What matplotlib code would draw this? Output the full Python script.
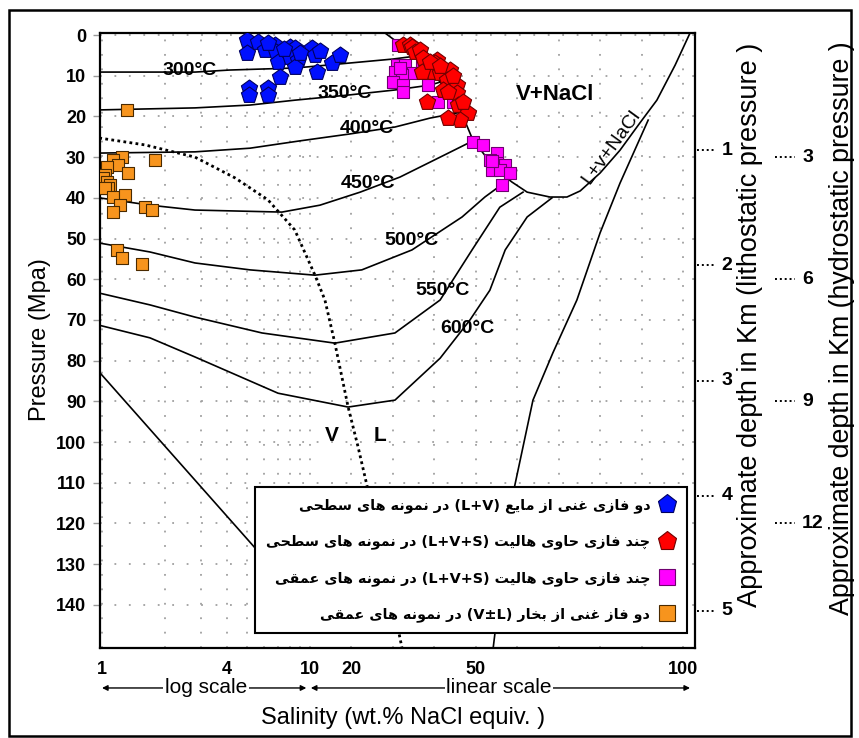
import numpy as np
import matplotlib
matplotlib.use("Agg")
import matplotlib.pyplot as plt
from matplotlib.patches import Rectangle
from matplotlib.lines import Line2D
from matplotlib.font_manager import FontProperties

plt.rcParams['font.family'] = ['Liberation Sans', 'DejaVu Sans']

# fluid inclusion groups: salinity (wt.% NaCl) and pressure (MPa)
blue_s = [5.0, 5.6, 5.0, 6.1, 6.8, 6.9, 7.0, 8.0, 8.5, 8.0, 8.8, 8.5, 10.5, 11.2, 11.7,
          15.3, 17.2, 7.2, 5.1, 5.1, 6.3, 6.3, 6.3, 9.0, 12.5, 7.5]
blue_p = [1.2, 1.7, 4.4, 3.7, 2.5, 4.2, 6.6, 2.9, 3.2, 5.4, 6.1, 7.9, 3.2, 4.9, 9.1,
          6.9, 5.0, 10.3, 13.0, 14.7, 13.0, 14.7, 2.0, 4.5, 4.0, 3.5]

red_s = [32.4, 34.1, 34.6, 35.3, 36.5, 37.3, 40.6, 40.2, 39.7, 41.4, 43.8, 43.1, 42.1,
         45.5, 45.5, 43.3, 45.7, 48.1, 46.2, 43.3, 38.2, 37.0, 39.0, 41.4, 44.5, 47.0]
red_p = [2.5, 2.5, 2.9, 4.2, 3.7, 5.7, 6.1, 6.9, 9.1, 9.3, 8.6, 11.1, 13.5,
         12.3, 14.3, 14.0, 17.2, 19.2, 20.9, 20.4, 16.5, 9.1, 6.6, 7.5, 10.0, 16.5]

pink_s = [31.2, 31.0, 32.9, 30.5, 34.9, 32.2, 30.0, 32.4, 32.4, 38.5, 40.9, 37.0, 44.5, 31.7,
          49.3, 51.7, 55.1, 53.4, 55.1, 57.1, 53.9, 55.8, 58.3, 56.3, 54.0]
pink_p = [2.5, 7.4, 7.4, 9.1, 9.3, 9.8, 11.5, 12.3, 14.0, 12.3, 16.5, 6.9, 16.5, 8.0,
          26.3, 27.0, 29.0, 30.7, 31.4, 31.9, 33.2, 33.2, 33.9, 36.9, 31.0]

orange_s = [1.32, 1.25, 1.13, 1.80, 1.19, 1.06, 1.33, 1.03, 1.01, 1.06, 1.09, 1.07, 1.03,
            1.13, 1.29, 1.22, 1.13, 1.61, 1.74, 1.18, 1.25, 1.56]
orange_p = [18.4, 30.0, 30.7, 30.7, 31.9, 32.4, 33.9, 34.4, 35.1, 36.1, 36.9, 37.6, 37.6,
            39.8, 39.3, 41.8, 43.5, 42.3, 43.0, 52.8, 54.8, 56.3]

# isotherms (salinity, pressure)
iso_300_s = [0.97, 1.7, 2.8, 4.1, 8.5, 17.2, 30.0, 35.3]
iso_300_p = [9.1, 9.1, 9.1, 8.6, 8.1, 7.1, 5.9, 5.2]
iso_350_s = [0.97, 2.8, 5.15, 8.47, 19.65, 30.5, 39.0, 41.6]
iso_350_p = [18.4, 17.9, 17.2, 16.0, 14.7, 13.5, 12.3, 11.5]
iso_400_s = [0.97, 2.8, 5.15, 8.95, 19.65, 30.5, 39.0, 46.7]
iso_400_p = [29.0, 28.7, 27.8, 26.0, 24.3, 22.6, 20.4, 18.9]
iso_450_s = [0.97, 1.7, 2.8, 7.33, 12.4, 22.1, 31.7, 41.4, 49.3]
iso_450_p = [40.0, 41.8, 43.0, 43.5, 41.8, 38.6, 34.9, 30.0, 26.0]
iso_500_s = [0.97, 1.7, 2.8, 5.15, 11.2, 22.5, 34.6, 46.7, 52.2, 57.8]
iso_500_p = [51.1, 53.3, 56.0, 57.7, 59.0, 57.7, 52.8, 44.7, 39.8, 35.6]
iso_550_s = [0.97, 1.7, 2.8, 5.88, 16.0, 30.5, 41.4, 49.1, 55.8, 61.4]
iso_550_p = [63.4, 66.3, 69.3, 73.2, 75.7, 73.2, 65.1, 52.8, 42.3, 38.6]
iso_600_s = [0.97, 1.7, 2.8, 7.02, 19.2, 30.5, 41.4, 48.6, 53.4, 57.1, 62.4, 68.4]
iso_600_p = [71.3, 74.4, 79.1, 88.0, 91.4, 89.7, 79.4, 70.0, 62.7, 52.8, 44.7, 40.0]
iso_labels = ['300°C', '350°C', '400°C', '450°C', '500°C', '550°C', '600°C']
iso_lab_s = [2.65, 18.4, 23.8, 24.0, 34.6, 42.1, 47.9]
iso_lab_p = [8.6, 14.3, 22.9, 36.4, 50.4, 62.7, 72.0]

# halite saturation (L+V+H) curve
hal_s = [28.1, 31.0, 36.5, 41.4, 45.0, 47.5, 49.3, 52.7, 55.8, 58.7, 62.4, 67.9, 72.0,
         75.2, 80.0, 84.8, 89.6, 93.7, 98.1, 101.7]
hal_p = [-0.5, 1.7, 6.1, 11.5, 16.7, 21.4, 25.8, 30.2, 33.7, 36.1, 38.6, 39.8, 39.8,
         38.3, 33.9, 28.3, 21.6, 16.0, 7.4, -0.5]
# halite liquidus branch
liq_s = [91.6, 84.8, 80.0, 74.4, 68.6, 63.8, 58.3, 54.2]
liq_p = [20.9, 36.4, 48.6, 65.1, 78.1, 89.7, 116.0, 150.6]
# low salinity boundary
low_s = [0.97, 5.44, 8.0]
low_p = [82.8, 126.0, 135.9]
# critical curve (dotted)
crit_s = [0.97, 1.61, 2.80, 4.36, 6.28, 8.45, 11.2, 13.6, 16.0, 19.2, 21.6, 24.0, 28.1, 32.2]
crit_p = [25.3, 27.0, 30.0, 35.1, 40.5, 47.9, 59.0, 65.1, 75.7, 91.4, 101.2, 111.8, 130.2, 150.6]

x_grid = [1, 2, 3, 4, 5, 6, 7, 8, 9, 10, 20, 30, 40, 50, 60, 70, 80, 90, 100]
x_ticklabels = {1: '1', 4: '4', 10: '10', 20: '20', 50: '50', 100: '100'}
y_ticks = list(range(0, 150, 10))
litho_km = [1, 2, 3, 4, 5]
hydro_km = [3, 6, 9, 12]
MPA_PER_KM_LITHO = 28.3
MPA_PER_KM_HYDRO = 10.0

legend_labels = [
    'دو فازی غنی از مایع (L+V) در نمونه های سطحی',
    'چند فازی حاوی هالیت (L+V+S) در نمونه های سطحی',
    'چند فازی حاوی هالیت (L+V+S) در نمونه های عمقی',
    'دو فاز غنی از بخار (V±L) در نمونه های عمقی',
]

# arabic letter forms: isolated, final, initial, medial
FORMS = {
    'ا': ('\uFE8D', '\uFE8E', None, None),
    'ب': ('\uFE8F', '\uFE90', '\uFE91', '\uFE92'),
    'ت': ('\uFE95', '\uFE96', '\uFE97', '\uFE98'),
    'ح': ('\uFEA1', '\uFEA2', '\uFEA3', '\uFEA4'),
    'خ': ('\uFEA5', '\uFEA6', '\uFEA7', '\uFEA8'),
    'د': ('\uFEA9', '\uFEAA', None, None),
    'ر': ('\uFEAD', '\uFEAE', None, None),
    'ز': ('\uFEAF', '\uFEB0', None, None),
    'س': ('\uFEB1', '\uFEB2', '\uFEB3', '\uFEB4'),
    'ط': ('\uFEC1', '\uFEC2', '\uFEC3', '\uFEC4'),
    'ع': ('\uFEC9', '\uFECA', '\uFECB', '\uFECC'),
    'غ': ('\uFECD', '\uFECE', '\uFECF', '\uFED0'),
    'ف': ('\uFED1', '\uFED2', '\uFED3', '\uFED4'),
    'ق': ('\uFED5', '\uFED6', '\uFED7', '\uFED8'),
    'ل': ('\uFEDD', '\uFEDE', '\uFEDF', '\uFEE0'),
    'م': ('\uFEE1', '\uFEE2', '\uFEE3', '\uFEE4'),
    'ن': ('\uFEE5', '\uFEE6', '\uFEE7', '\uFEE8'),
    'ه': ('\uFEE9', '\uFEEA', '\uFEEB', '\uFEEC'),
    'و': ('\uFEED', '\uFEEE', None, None),
    'ی': ('\uFBFC', '\uFBFD', '\uFBFE', '\uFBFF'),
    'چ': ('\uFB7A', '\uFB7B', '\uFB7C', '\uFB7D'),
}


def shape_word(w):
    out = []
    for i, c in enumerate(w):
        f = FORMS.get(c)
        if f is None:
            out.append(c)
            continue
        prev = w[i - 1] if i > 0 else None
        nxt = w[i + 1] if i + 1 < len(w) else None
        jp = prev in FORMS and FORMS[prev][2] is not None
        jn = f[2] is not None and nxt in FORMS
        if jp and jn:
            out.append(f[3])
        elif jp:
            out.append(f[1])
        elif jn:
            out.append(f[2])
        else:
            out.append(f[0])
    return ''.join(reversed(out))


def rtl(text):
    words = text.split(' ')
    vis = [w if w.startswith('(') else shape_word(w) for w in words]
    return ' '.join(reversed(vis))


K = 373 / 208  # width of one linear decade relative to log decade


def fwd(s):
    s = np.asarray(s, float)
    lo = np.log10(np.clip(s, 1e-6, None))
    hi = 1 + (s - 10) / 90 * K
    return np.where(s <= 10, lo, hi)


def inv(u):
    u = np.asarray(u, float)
    return np.where(u <= 1, 10 ** np.clip(u, -10, 1), 10 + (u - 1) * 90 / K)


fig = plt.figure(figsize=(8.59, 7.38), dpi=100)
ax = fig.add_axes([100 / 859, 90 / 738, 595 / 859, 615 / 738])
ax.set_xscale('function', functions=(fwd, inv))
ax.set_xlim(0.978, 102.9)
ax.set_ylim(150.6, -0.5)

ax.set_xticks(x_grid)
ax.set_xticklabels([x_ticklabels.get(v, '') for v in x_grid])
ax.xaxis.set_minor_locator(plt.NullLocator())
ax.set_yticks(y_ticks)
ax.tick_params(axis='x', length=0, pad=9, labelsize=13)
ax.tick_params(axis='y', length=5, width=1, color='#9a9a9a', pad=5, labelsize=13)
for t in ax.get_xticklabels() + ax.get_yticklabels():
    t.set_fontweight('bold')
ax.grid(True, color='#a0a0a0', lw=1.3, ls=(0, (1, 7)))
ax.set_axisbelow(True)
for sp in ax.spines.values():
    sp.set_linewidth(1.6)

line_kw = dict(color='k', lw=1.2, zorder=2)
for s, p in [(iso_300_s, iso_300_p), (iso_350_s, iso_350_p), (iso_400_s, iso_400_p),
             (iso_450_s, iso_450_p), (iso_500_s, iso_500_p), (iso_550_s, iso_550_p),
             (iso_600_s, iso_600_p), (hal_s, hal_p), (liq_s, liq_p), (low_s, low_p)]:
    ax.plot(s, p, **line_kw)
ax.plot(crit_s, crit_p, color='k', lw=2, ls=(0, (1, 1.2)), zorder=2)

for lab, s, p in zip(iso_labels, iso_lab_s, iso_lab_p):
    ax.text(s, p, lab, ha='center', va='center', fontsize=14, fontweight='bold', zorder=3)

ax.text(69.1, 14.7, 'V+NaCl', ha='center', va='center', fontsize=16, fontweight='bold')
ax.text(82.6, 27.5, 'L+v+NaCl', ha='center', va='center', fontsize=14, rotation=54)
ax.text(15.3, 98.3, 'V', ha='center', va='center', fontsize=15, fontweight='bold')
ax.text(26.9, 98.3, 'L', ha='center', va='center', fontsize=15, fontweight='bold')

ax.scatter(orange_s, orange_p, marker='s', s=85, c='#f7941d', edgecolors='#4a2a00', linewidths=0.8, zorder=5)
ax.scatter(pink_s, pink_p, marker='s', s=85, c='#ff00ff', edgecolors='#700070', linewidths=0.8, zorder=5)
ax.scatter(red_s, red_p, marker='p', s=150, c='#ff0000', edgecolors='#700000', linewidths=0.8, zorder=6)
ax.scatter(blue_s, blue_p, marker='p', s=150, c='#0010ff', edgecolors='#000060', linewidths=0.8, zorder=6)

handles = [
    Line2D([], [], ls='', marker='p', ms=14, mfc='#0010ff', mec='#000060', mew=0.8),
    Line2D([], [], ls='', marker='p', ms=14, mfc='#ff0000', mec='#700000', mew=0.8),
    Line2D([], [], ls='', marker='s', ms=12, mfc='#ff00ff', mec='#700070', mew=0.8),
    Line2D([], [], ls='', marker='s', ms=12, mfc='#f7941d', mec='#4a2a00', mew=0.8),
]
leg = ax.legend(handles, [rtl(t) for t in legend_labels], loc='lower right',
                bbox_to_anchor=(687 / 859, 105 / 738), bbox_transform=fig.transFigure,
                markerfirst=False, fancybox=False, framealpha=1, edgecolor='k',
                borderaxespad=0, borderpad=0.75, labelspacing=1.5, handletextpad=0.5,
                handlelength=1.3,
                prop=FontProperties(family=['DejaVu Sans'], weight='bold', size=10.4))
leg.get_frame().set_linewidth(1.5)
leg.set_zorder(10)

# scale arrows under the salinity axis
xt = ax.get_xaxis_transform()
arrow_y = -0.065
for a, b, txt, mid in [(1.0, 9.6, 'log scale', 3.16), (10.2, 101.7, 'linear scale', 55.6)]:
    ax.annotate('', xy=(b, arrow_y), xytext=(a, arrow_y), xycoords=xt, textcoords=xt,
                arrowprops=dict(arrowstyle='<|-|>', color='k', lw=1, mutation_scale=8,
                                shrinkA=0, shrinkB=0), annotation_clip=False)
    ax.text(mid, arrow_y, txt, transform=xt, ha='center', va='center', fontsize=15,
            bbox=dict(fc='white', ec='none', pad=1))

# depth scales on the right
yt = ax.get_yaxis_transform()
for km in litho_km:
    p = km * MPA_PER_KM_LITHO
    ax.plot([1.004, 1.035], [p, p], transform=yt, color='k', lw=1.4, ls=(0, (1, 1.5)), clip_on=False)
    ax.text(1.045, p, str(km), transform=yt, ha='left', va='center', fontsize=14, fontweight='bold')
for km in hydro_km:
    p = km * MPA_PER_KM_HYDRO
    ax.plot([1.134, 1.168], [p, p], transform=yt, color='k', lw=1.4, ls=(0, (1, 1.5)), clip_on=False)
    ax.text(1.18, p, str(km), transform=yt, ha='left', va='center', fontsize=14, fontweight='bold')

fig.text(750 / 859, 1 - 325 / 738, 'Approximate depth in Km (lithostatic pressure )',
         rotation=90, ha='center', va='center', fontsize=19.5)
fig.text(842 / 859, 1 - 328 / 738, 'Approximate depth in Km (hydrostatic pressure )',
         rotation=90, ha='center', va='center', fontsize=19.3)
fig.text(40 / 859, 1 - 340 / 738, 'Pressure (Mpa)', rotation=90, ha='center', va='center', fontsize=17)
fig.text(403 / 859, 1 - 718 / 738, 'Salinity (wt.% NaCl equiv. )', ha='center', va='center', fontsize=17)

fig.patches.append(Rectangle((9 / 859, 2 / 738), 842 / 859, 726 / 738, transform=fig.transFigure,
                             fill=False, ec='k', lw=1.8))

fig.savefig('out.png', dpi=100)
